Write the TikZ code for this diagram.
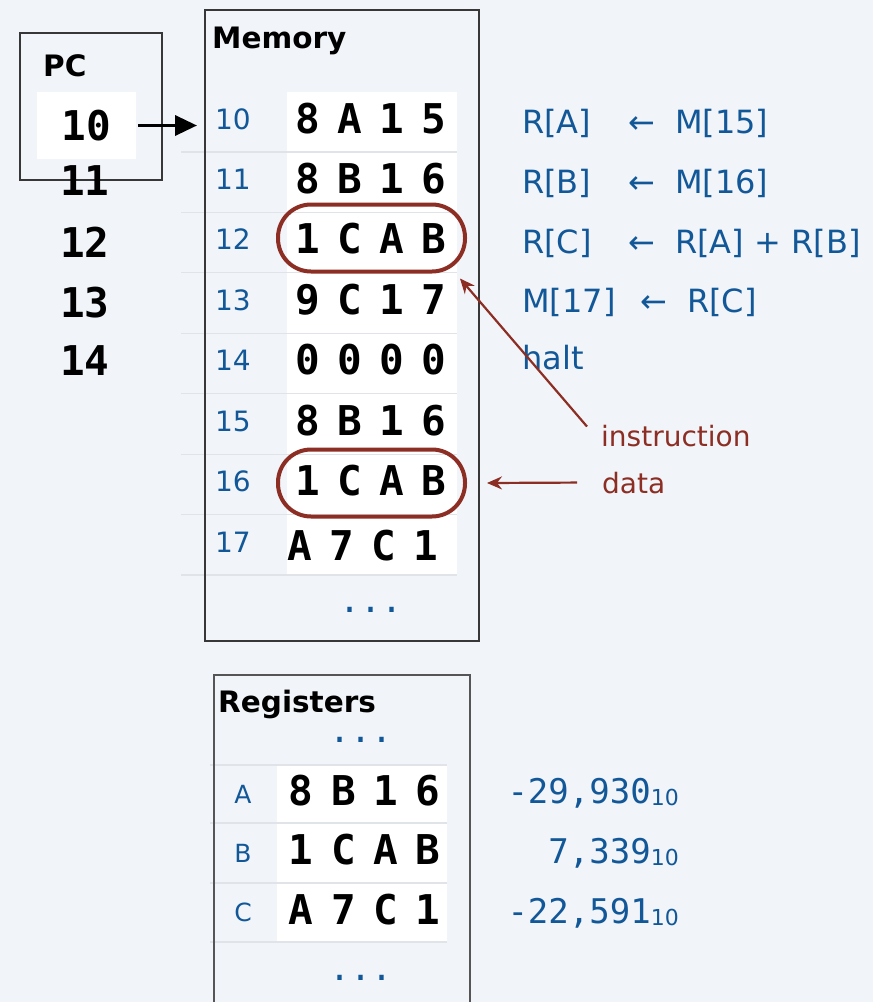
\documentclass[tikz,border=0pt]{standalone}
\usepackage{fontspec}
\setmainfont{DejaVu Sans}
\newfontfamily\monofam{DejaVu Sans Mono}
\usetikzlibrary{arrows.meta}

\definecolor{bgcol}{RGB}{241,244,248}
\definecolor{addrblue}{RGB}{18,88,152}
\definecolor{notebrown}{RGB}{140,46,36}
\definecolor{framegray}{RGB}{55,55,55}
\definecolor{rulegray}{RGB}{224,227,231}

% four hex digits set in equal cells
\newcommand\hexcells[4]{\makebox[42.2pt]{#1}\makebox[42.2pt]{#2}\makebox[42.2pt]{#3}\makebox[42.2pt]{#4}}

\begin{document}
\begin{tikzpicture}[x=1pt,y=-1pt,
  title/.style={anchor=base west, inner sep=0pt, font=\bfseries\fontsize{29.5}{30}\selectfont},
  hexword/.style={anchor=base, inner sep=0pt, font=\monofam\bfseries\fontsize{41}{41}\selectfont},
  addr/.style={anchor=base, inner sep=0pt, text=addrblue, font=\fontsize{28}{28}\selectfont},
  reglabel/.style={anchor=base, inner sep=0pt, text=addrblue, font=\fontsize{25}{25}\selectfont},
  instr/.style={anchor=base west, inner sep=0pt, text=addrblue, font=\fontsize{32}{32}\selectfont},
  decval/.style={anchor=base east, inner sep=0pt, text=addrblue, font=\monofam\fontsize{34}{34}\selectfont},
  dotsrow/.style={anchor=base, inner sep=0pt, text=addrblue, font=\monofam\fontsize{35}{35}\selectfont},
  note/.style={anchor=base west, inner sep=0pt, text=notebrown, font=\fontsize{28}{28}\selectfont},
  frame/.style={draw=framegray, line width=1.5pt},
  rowrule/.style={draw=rulegray, line width=1.2pt},
  ring/.style={draw=notebrown, line width=4pt, rounded corners=33pt,
    minimum width=187pt, minimum height=67pt},
  notearrow/.style={draw=notebrown, line width=2.2pt,
    -{Stealth[length=15pt,width=13pt,inset=5pt]}},
  pcarrow/.style={draw=black, line width=3.5pt,
    -{Triangle[length=22pt,width=20pt]}}
]
\useasboundingbox (0,0) rectangle (873,1002);
\fill[bgcol] (0,0) rectangle (873,1002);

% ---------- memory ----------
\fill[white] (287,92) rectangle (457,575);
\foreach \k in {0,...,7}
  \draw[rowrule] (181,152+60.43*\k) -- (457,152+60.43*\k);
\node[frame, anchor=north west, inner sep=0pt, minimum width=274pt,
      minimum height=631pt] (mem) at (204,9) {};
\node[title] (memtitle) at (212,48) {Memory};

\foreach \a/\w [count=\k from 0] in {10/8A15, 11/8B16, 12/1CAB, 13/9C17,
                                   14/0000, 15/8B16, 16/1CAB} {
  \node[addr] (a\a) at (233,129+60.43*\k) {\a};
  \node[hexword] (h\a) at (371,133+60.43*\k) {\expandafter\hexcells\w};
}
\node[addr] (a17) at (233,552) {17};
\node[hexword] (h17) at (363,560) {\hexcells A7C1};
\node[dotsrow] (memdots) at (371,612) {...};

% ---------- program counter ----------
\node[frame, anchor=north west, inner sep=0pt, minimum width=142pt,
      minimum height=147pt] (pcbox) at (19,32) {};
\node[title] (pctitle) at (43,76) {PC};
\node[fill=white, minimum width=99pt, minimum height=67pt, inner sep=0pt,
      font=\monofam\bfseries\fontsize{41}{41}\selectfont] (pcval) at (86.5,125.5) {10};
\foreach \n/\y in {11/195, 12/257, 13/317, 14/375}
  \node[hexword] (pc\n) at (85,\y) {\n};

\path (pcval.east -| mem.west) ++(-7,0) coordinate (pctip);
\draw[pcarrow] ([xshift=2pt]pcval.east) -- (pctip);

% ---------- decoded instructions ----------
\node[instr] (i10) at (522,133) {\makebox[106pt][l]{R[A]}\makebox[47pt][l]{←}M[15]};
\node[instr] (i11) at (522,193) {\makebox[106pt][l]{R[B]}\makebox[47pt][l]{←}M[16]};
\node[instr] (i12) at (522,253) {\makebox[106pt][l]{R[C]}\makebox[47pt][l]{←}R[A] + R[B]};
\node[instr] (i13) at (522,312) {\makebox[118pt][l]{M[17]}\makebox[47pt][l]{←}R[C]};
\node[instr] (i14) at (522,369) {halt};

% ---------- instruction / data marks ----------
\node[ring] (c12) at (371.5,238) {};
\node[ring] (c16) at (371.5,483) {};
\node[note] (instrnote) at (601,446) {instruction};
\node[note] (datanote) at (602,493) {data};
\draw[notearrow] ([xshift=-14pt,yshift=-2pt]instrnote.north west)
  -- ([xshift=-7pt,yshift=-5pt]c12.south east);
\draw[notearrow] ([xshift=-25pt]datanote.west) -- ([xshift=20pt]c16.east);

% ---------- registers ----------
\fill[white] (277,765) rectangle (447,942);
\foreach \y in {765,823,883,942}
  \draw[rowrule] (210,\y) -- (447,\y);
\draw[frame, line width=2pt, draw=framegray!85] (214,1004) -- (214,675) -- (470,675) -- (470,1004);
\node[title] (regtitle) at (218,712) {Registers};
\node[dotsrow] (regdotstop) at (361,742) {...};
\node[dotsrow] (regdotsbot) at (361,980) {...};

\node[reglabel] (rA) at (243,803) {A};
\node[reglabel] (rB) at (243,862) {B};
\node[reglabel] (rC) at (243,921) {C};
\node[hexword] (vA) at (364.5,805) {\hexcells 8B16};
\node[hexword] (vB) at (364.5,864) {\hexcells 1CAB};
\node[hexword] (vC) at (364.5,924) {\hexcells A7C1};

\node[decval] (dA) at (679,803) {-29,930\raisebox{-2pt}{\rmfamily\fontsize{22}{22}\selectfont 10}};
\node[decval] (dB) at (679,863) {7,339\raisebox{-2pt}{\rmfamily\fontsize{22}{22}\selectfont 10}};
\node[decval] (dC) at (679,923) {-22,591\raisebox{-2pt}{\rmfamily\fontsize{22}{22}\selectfont 10}};
\end{tikzpicture}
\end{document}
